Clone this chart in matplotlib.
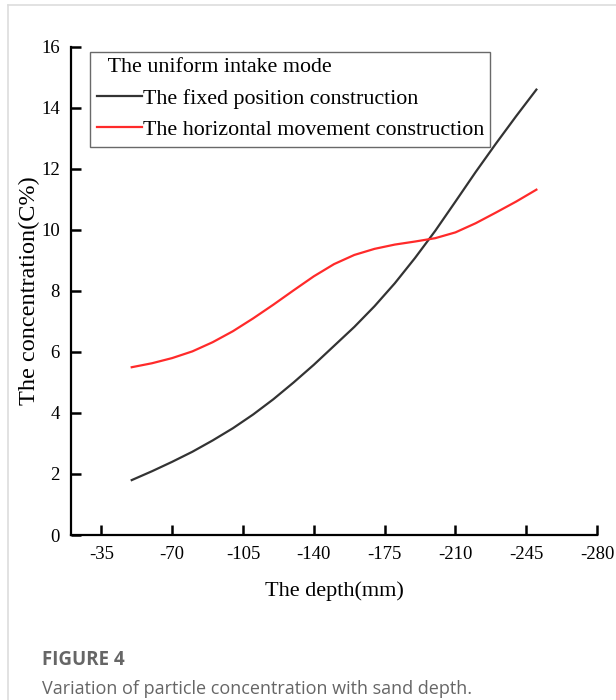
import numpy as np
import matplotlib.pyplot as plt
from matplotlib.lines import Line2D

depth = [-50, -60, -70, -80, -90, -100, -110, -120, -130, -140, -150,
         -160, -170, -180, -190, -200, -210, -220, -230, -240, -250]
fixed = [1.80, 2.09, 2.40, 2.73, 3.10, 3.50, 3.95, 4.45, 5.00, 5.58, 6.20,
         6.82, 7.50, 8.25, 9.08, 9.97, 10.93, 11.90, 12.83, 13.73, 14.60]
horizontal = [5.50, 5.63, 5.80, 6.02, 6.32, 6.68, 7.10, 7.55, 8.02, 8.48, 8.88,
              9.18, 9.38, 9.52, 9.62, 9.73, 9.92, 10.22, 10.57, 10.93, 11.32]
xticks = [-35, -70, -105, -140, -175, -210, -245, -280]
yticks = [0, 2, 4, 6, 8, 10, 12, 14, 16]

serif = 'Liberation Serif'

fig = plt.figure(figsize=(6.16, 7.0), dpi=100)
ax = fig.add_axes([0.1153, 0.2357, 0.854, 0.6973])

ax.plot(depth, fixed, color='#333333', lw=1.6, label='The fixed position construction')
ax.plot(depth, horizontal, color='#ff2a2a', lw=1.6, label='The horizontal movement construction')

ax.set_xlim(-20, -280)
ax.set_ylim(0, 16)
ax.set_xticks(xticks)
ax.set_yticks(yticks)
ax.set_xticklabels([str(v) for v in xticks], family=serif, fontsize=13.5)
ax.set_yticklabels([str(v) for v in yticks], family=serif, fontsize=13.5)
ax.tick_params(direction='in', length=7, width=1.8, pad=8)
ax.spines['top'].set_visible(False)
ax.spines['right'].set_visible(False)
ax.spines['left'].set_linewidth(1.6)
ax.spines['bottom'].set_linewidth(1.6)

ax.set_xlabel('The depth(mm)', family=serif, fontsize=16, labelpad=13)
ax.set_ylabel('The concentration(C%)', family=serif, fontsize=17.5, labelpad=1)

leg = ax.legend(title='  The uniform intake mode', loc='upper left',
                bbox_to_anchor=(0.036, 0.99), frameon=True, fancybox=False,
                edgecolor='#444444', handlelength=2.05, handletextpad=0.05,
                borderpad=0.3, labelspacing=0.5, borderaxespad=0,
                prop={'family': serif, 'size': 15.8},
                title_fontproperties={'family': serif, 'size': 15.8})
leg._legend_box.align = 'left'
leg.get_frame().set_linewidth(1.0)

# card border
fig.add_artist(Line2D([8 / 616, 1], [1 - 5 / 700, 1 - 5 / 700], color='#dddddd', lw=1.2))
fig.add_artist(Line2D([8 / 616, 8 / 616], [0, 1 - 5 / 700], color='#dddddd', lw=1.2))

fig.text(42 / 616, 1 - 660 / 700, 'FIGURE 4', family='Open Sans', fontsize=13.5,
         fontweight='bold', color='#666666', va='center')
fig.text(42 / 616, 1 - 689 / 700, 'Variation of particle concentration with sand depth.',
         family='Open Sans', fontsize=13, color='#666666', va='center')

fig.savefig('out.png', dpi=100)
